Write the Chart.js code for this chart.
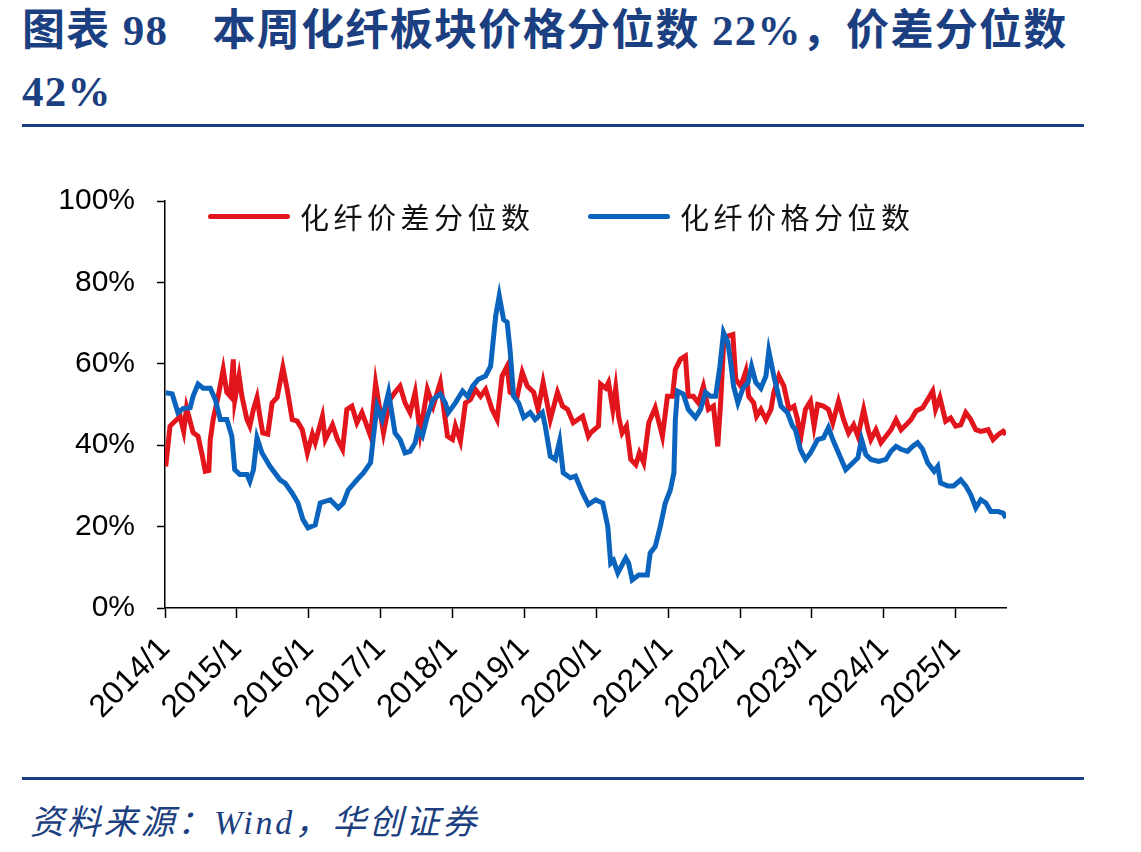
<!DOCTYPE html>
<html lang="zh-CN">
<head>
    <meta charset="UTF-8">
    <title>化纤板块价格分位数</title>
    <style>
        * {
            margin: 0;
            padding: 0;
            box-sizing: border-box;
        }

        body {
            width: 1141px;
            height: 852px;
            background: #fff;
            position: relative;
            overflow: hidden;
        }

        .title {
            position: absolute;
            left: 22px;
            top: 0;
            font-family: 'Liberation Serif', 'Noto Sans CJK SC', serif;
            font-weight: bold;
            font-size: 43px;
            line-height: 61px;
            color: #1b3f80;
            white-space: nowrap;
            letter-spacing: 1.3px;
        }

        .rule {
            position: absolute;
            left: 22px;
            width: 1062px;
            height: 3px;
            background: #1b3f80;
        }

        .legend {
            position: absolute;
            top: 195px;
            font-family: 'Noto Sans CJK SC', sans-serif;
            font-size: 29px;
            letter-spacing: 4.5px;
            color: #111;
            display: flex;
            align-items: center;
        }

        .legend .swatch {
            display: inline-block;
            width: 82px;
            height: 5px;
            border-radius: 3px;
            margin-right: 10px;
        }

        .source {
            position: absolute;
            left: 30px;
            top: 795px;
            font-family: 'Liberation Serif', 'Noto Sans CJK SC', serif;
            font-style: italic;
            font-size: 34px;
            letter-spacing: 2.8px;
            color: #1b3f80;
            white-space: nowrap;
        }

        #chartBox {
            position: absolute;
            left: 0;
            top: 150px;
            width: 1141px;
            height: 620px;
        }
    </style>
</head>
<body>
    <div class="title">图表 98　本周化纤板块价格分位数 22%，价差分位数<br>42%</div>
    <div class="rule" style="top:124px"></div>

    <div id="chartBox"><canvas id="pctChart"></canvas></div>

    <div class="legend" style="left:208px"><span class="swatch" style="background:#e3151c"></span>化纤价差分位数</div>
    <div class="legend" style="left:588px"><span class="swatch" style="background:#0a63bd"></span>化纤价格分位数</div>

    <div class="rule" style="top:777px"></div>
    <div class="source">资料来源：Wind，华创证券</div>

    <script src="https://cdn.jsdelivr.net/npm/chart.js"></script>
    <script>
        // dates are decimal years (weekly series)
        var spreadDates = [2014.01, 2014.07, 2014.21, 2014.26, 2014.30, 2014.39, 2014.46, 2014.52, 2014.56, 2014.61,
            2014.63, 2014.67, 2014.74, 2014.81, 2014.86, 2014.91, 2014.95, 2014.97, 2015.03, 2015.07,
            2015.14, 2015.18, 2015.23, 2015.28, 2015.32, 2015.36, 2015.43, 2015.49, 2015.56, 2015.64,
            2015.70, 2015.77, 2015.84, 2015.91, 2015.98, 2016.05, 2016.09, 2016.19, 2016.23, 2016.33,
            2016.40, 2016.47, 2016.53, 2016.60, 2016.67, 2016.74, 2016.81, 2016.86, 2016.93, 2017.04,
            2017.13, 2017.20, 2017.27, 2017.34, 2017.41, 2017.48, 2017.55, 2017.65, 2017.73, 2017.83,
            2017.93, 2018.00, 2018.04, 2018.11, 2018.18, 2018.25, 2018.32, 2018.39, 2018.46, 2018.55,
            2018.62, 2018.69, 2018.76, 2018.80, 2018.90, 2018.97, 2019.04, 2019.13, 2019.19, 2019.26,
            2019.36, 2019.46, 2019.53, 2019.60, 2019.68, 2019.81, 2019.89, 2019.92, 2020.03, 2020.06,
            2020.13, 2020.17, 2020.23, 2020.27, 2020.31, 2020.36, 2020.42, 2020.48, 2020.55, 2020.60,
            2020.66, 2020.73, 2020.82, 2020.92, 2020.99, 2021.06, 2021.10, 2021.17, 2021.24, 2021.28,
            2021.35, 2021.42, 2021.49, 2021.56, 2021.63, 2021.69, 2021.73, 2021.77, 2021.83, 2021.90,
            2021.94, 2022.01, 2022.08, 2022.12, 2022.19, 2022.23, 2022.29, 2022.36, 2022.43, 2022.47,
            2022.54, 2022.61, 2022.68, 2022.75, 2022.80, 2022.84, 2022.91, 2022.98, 2023.03, 2023.08,
            2023.16, 2023.23, 2023.29, 2023.37, 2023.44, 2023.51, 2023.58, 2023.64, 2023.72, 2023.78,
            2023.82, 2023.89, 2023.96, 2024.03, 2024.10, 2024.17, 2024.24, 2024.31, 2024.38, 2024.45,
            2024.54, 2024.61, 2024.68, 2024.72, 2024.78, 2024.86, 2024.93, 2025.00, 2025.07, 2025.14,
            2025.21, 2025.28, 2025.35, 2025.45, 2025.52, 2025.59, 2025.66, 2025.70];
        var spreadValues = [34.8, 44.7, 47.1, 43.4, 49.2, 43.1, 42.2, 37.3, 33.6, 33.8,
            41.4, 46.3, 52.0, 58.6, 53.0, 52.0, 61.1, 51.0, 57.0, 52.0,
            46.3, 44.7, 48.8, 51.7, 47.1, 43.0, 42.7, 50.4, 51.7, 59.1,
            53.7, 46.3, 45.9, 43.8, 38.1, 42.7, 40.6, 47.1, 41.4, 45.0,
            41.4, 39.0, 48.8, 49.6, 45.5, 48.0, 44.7, 42.2, 55.2, 43.0,
            51.2, 53.0, 54.5, 50.4, 48.0, 53.0, 43.0, 53.7, 49.6, 55.4,
            42.2, 41.4, 44.7, 41.0, 50.4, 51.2, 53.7, 52.0, 53.7, 48.8,
            46.3, 57.0, 59.4, 53.0, 52.0, 57.9, 54.5, 53.0, 48.8, 55.4,
            46.3, 53.0, 49.6, 48.8, 45.5, 47.1, 42.2, 43.0, 44.7, 55.0,
            54.0, 55.4, 48.8, 54.0, 47.1, 43.0, 44.7, 36.5, 35.2, 38.1,
            35.7, 45.5, 49.2, 42.2, 52.0, 52.0, 58.6, 61.1, 61.9, 52.0,
            52.0, 50.4, 54.5, 48.8, 49.6, 39.7, 50.4, 64.4, 66.8, 67.2,
            56.2, 54.5, 58.2, 52.0, 50.4, 47.1, 48.8, 46.3, 48.8, 53.0,
            57.0, 54.5, 48.8, 49.6, 46.3, 41.4, 48.8, 50.8, 44.7, 50.0,
            49.6, 48.8, 45.5, 50.8, 46.3, 43.0, 45.0, 42.2, 48.8, 43.8,
            41.4, 43.8, 40.6, 42.2, 43.8, 46.3, 43.8, 45.0, 46.3, 48.4,
            49.2, 51.2, 53.3, 48.8, 51.7, 45.9, 46.7, 44.7, 45.0, 48.0,
            46.3, 43.8, 43.4, 43.8, 41.4, 42.6, 43.4, 42.6];

        var priceDates = [2014.01, 2014.10, 2014.18, 2014.25, 2014.35, 2014.39, 2014.46, 2014.53, 2014.63, 2014.70,
            2014.77, 2014.86, 2014.93, 2014.97, 2015.04, 2015.14, 2015.18, 2015.23, 2015.28, 2015.35,
            2015.46, 2015.60, 2015.67, 2015.77, 2015.85, 2015.92, 2015.99, 2016.09, 2016.16, 2016.30,
            2016.41, 2016.48, 2016.55, 2016.67, 2016.76, 2016.86, 2016.90, 2016.95, 2017.02, 2017.11,
            2017.20, 2017.27, 2017.34, 2017.41, 2017.48, 2017.52, 2017.58, 2017.65, 2017.73, 2017.83,
            2017.90, 2017.94, 2018.04, 2018.14, 2018.21, 2018.28, 2018.36, 2018.46, 2018.53, 2018.60,
            2018.65, 2018.71, 2018.76, 2018.80, 2018.85, 2018.92, 2018.99, 2019.08, 2019.15, 2019.25,
            2019.29, 2019.36, 2019.43, 2019.49, 2019.54, 2019.64, 2019.71, 2019.81, 2019.89, 2019.99,
            2020.09, 2020.16, 2020.20, 2020.24, 2020.30, 2020.41, 2020.45, 2020.50, 2020.59, 2020.71,
            2020.75, 2020.82, 2020.89, 2020.96, 2021.03, 2021.08, 2021.10, 2021.13, 2021.21, 2021.28,
            2021.38, 2021.45, 2021.52, 2021.59, 2021.66, 2021.72, 2021.77, 2021.83, 2021.87, 2021.91,
            2021.97, 2022.04, 2022.11, 2022.16, 2022.22, 2022.29, 2022.36, 2022.40, 2022.47, 2022.57,
            2022.66, 2022.73, 2022.77, 2022.84, 2022.91, 2022.98, 2023.08, 2023.16, 2023.23, 2023.29,
            2023.37, 2023.47, 2023.57, 2023.64, 2023.69, 2023.75, 2023.82, 2023.93, 2024.03, 2024.10,
            2024.17, 2024.24, 2024.33, 2024.40, 2024.47, 2024.54, 2024.61, 2024.70, 2024.75, 2024.79,
            2024.89, 2024.97, 2025.07, 2025.14, 2025.21, 2025.28, 2025.35, 2025.42, 2025.49, 2025.59,
            2025.66, 2025.70];
        var priceValues = [52.9, 52.6, 48.0, 49.0, 49.2, 52.0, 55.0, 54.0, 54.0, 51.2,
            46.3, 46.3, 42.2, 34.0, 32.8, 32.8, 31.1, 34.0, 41.8, 38.1,
            34.8, 31.5, 30.7, 28.2, 25.8, 21.7, 19.7, 20.4, 25.8, 26.6,
            24.6, 25.8, 29.0, 31.5, 33.2, 35.7, 42.2, 49.6, 46.3, 53.0,
            43.0, 41.4, 38.1, 38.5, 40.6, 43.8, 42.2, 47.1, 51.2, 52.6,
            50.4, 48.0, 50.4, 53.3, 52.0, 54.5, 56.2, 57.0, 59.4, 71.7,
            76.7, 70.9, 70.2, 63.5, 52.0, 50.4, 46.8, 48.0, 46.3, 48.0,
            44.7, 37.3, 36.5, 41.0, 33.2, 32.0, 32.4, 28.2, 25.4, 26.6,
            25.8, 20.0, 11.0, 11.7, 8.6, 12.3, 11.0, 6.9, 8.1, 8.1,
            13.5, 15.1, 20.0, 25.8, 29.0, 33.2, 46.3, 53.3, 52.6, 48.8,
            46.8, 48.8, 53.0, 52.0, 52.0, 59.4, 67.7, 65.3, 60.3, 54.5,
            50.4, 54.0, 55.4, 59.4, 55.4, 54.0, 57.0, 63.1, 57.0, 49.6,
            48.0, 44.7, 43.8, 38.9, 36.5, 38.1, 41.4, 41.8, 44.3, 41.4,
            38.1, 34.0, 35.7, 36.9, 41.4, 37.7, 36.5, 36.0, 36.5, 38.5,
            39.7, 39.0, 38.5, 39.7, 40.6, 39.0, 35.7, 33.6, 34.8, 30.7,
            30.0, 30.0, 31.5, 30.0, 27.8, 24.6, 26.6, 25.8, 23.7, 23.7,
            23.3, 22.1];

        var xTickLabels = ['2014/1', '2015/1', '2016/1', '2017/1', '2018/1', '2019/1',
            '2020/1', '2021/1', '2022/1', '2023/1', '2024/1', '2025/1'];
        var yTickLabels = ['0%', '20%', '40%', '60%', '80%', '100%'];

        function toPoints(dates, values) {
            return dates.map(function (d, i) { return { x: d, y: values[i] }; });
        }

        var ctx = document.getElementById('pctChart').getContext('2d');
        var pctChart = new Chart(ctx, {
            type: 'line',
            data: {
                datasets: [{
                    label: '化纤价格分位数',
                    data: toPoints(priceDates, priceValues),
                    borderColor: '#0a63bd',
                    borderWidth: 5,
                    pointRadius: 0,
                    tension: 0
                }, {
                    label: '化纤价差分位数',
                    data: toPoints(spreadDates, spreadValues),
                    borderColor: '#e3151c',
                    borderWidth: 5,
                    pointRadius: 0,
                    tension: 0
                }]
            },
            options: {
                responsive: true,
                maintainAspectRatio: false,
                animation: false,
                layout: { padding: { top: 51, right: 135, left: 0, bottom: 0 } },
                plugins: {
                    legend: { display: false },
                    tooltip: { enabled: false }
                },
                scales: {
                    x: {
                        type: 'linear',
                        min: 2014,
                        max: 2025.70,
                        afterBuildTicks: function (scale) {
                            scale.ticks = xTickLabels.map(function (l, i) { return { value: 2014 + i }; });
                        },
                        afterFit: function (scale) { scale.height = 162; },
                        ticks: {
                            autoSkip: false,
                            minRotation: 45,
                            maxRotation: 45,
                            padding: 12,
                            color: '#000',
                            font: { family: 'Liberation Sans', size: 32 },
                            callback: function (v, i) { return xTickLabels[i]; }
                        },
                        grid: { drawOnChartArea: false, tickLength: 10, tickColor: '#000', tickWidth: 1.5 },
                        border: { color: '#000', width: 1.5 }
                    },
                    y: {
                        min: 0,
                        max: 100,
                        afterBuildTicks: function (scale) {
                            scale.ticks = yTickLabels.map(function (l, i) { return { value: i * 20 }; });
                        },
                        afterFit: function (scale) { scale.width = 165; },
                        ticks: {
                            padding: 22,
                            color: '#000',
                            font: { family: 'Liberation Sans', size: 30 },
                            callback: function (v, i) { return yTickLabels[i]; }
                        },
                        grid: { drawOnChartArea: false, tickLength: 8, tickColor: '#000', tickWidth: 1.5 },
                        border: { color: '#000', width: 1.5 }
                    }
                }
            }
        });
    </script>
</body>
</html>
